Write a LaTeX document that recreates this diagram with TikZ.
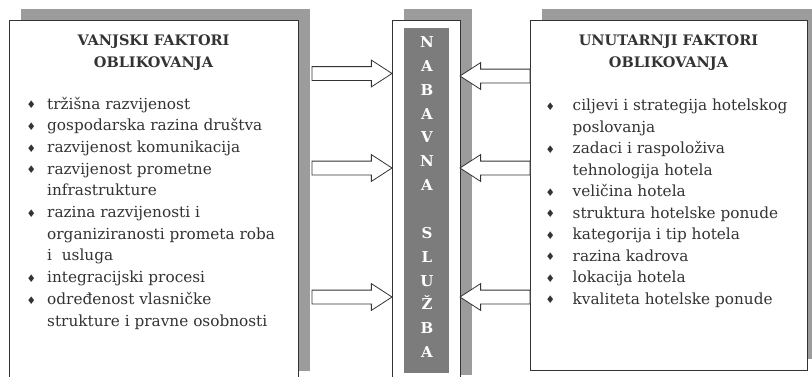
\documentclass[tikz,border=0pt]{standalone}
\usepackage{fontspec}
\setmainfont{DejaVu Serif}
\newfontfamily\bulfont{DejaVu Sans}
\usetikzlibrary{shapes.arrows,shadows}
\definecolor{shade}{HTML}{9C9C9C}
\definecolor{darkfill}{HTML}{7C7C7C}
\definecolor{edge}{HTML}{333333}
\definecolor{ink}{HTML}{333333}
\newcommand\bulsym{\raisebox{0.3pt}{\bulfont\fontsize{10.5}{10}\selectfont ♦}}
\newcommand\lbul{\makebox[19.5pt][l]{\hspace*{-1pt}\bulsym}}
\newcommand\lind{\hspace*{19.5pt}}
\newcommand\rbul{\makebox[26pt][l]{\hspace*{-1pt}\bulsym}}
\newcommand\rind{\hspace*{26pt}}
\begin{document}
\begin{tikzpicture}[x=1pt,y=-1pt,
  panel/.style={draw=edge, fill=white, line width=0.8pt, inner sep=0pt, outer sep=0pt, anchor=north west,
    drop shadow={shadow xshift=12pt, shadow yshift=11pt, fill=shade, opacity=1}},
  ttl/.style={font=\bfseries\fontsize{14.5}{17}\selectfont, text=ink, inner sep=0pt, anchor=base},
  item/.style={font=\fontsize{15.3}{18}\selectfont, text=ink, inner sep=0pt, anchor=base west},
  letter/.style={font=\bfseries\fontsize{15}{18}\selectfont, text=white, inner sep=0pt, anchor=base},
  barrow/.style={single arrow, draw=edge, fill=white, line width=0.8pt, minimum width=26pt,
    single arrow head extend=6.5pt, single arrow tip angle=66, inner xsep=0pt, inner ysep=6.5pt,
    text height=0pt, text depth=0pt, outer sep=0pt}]
\useasboundingbox (0,0) rectangle (812,376);

% panels
\node[panel, minimum width=289pt, minimum height=362pt] (lbox) at (9,20) {};
\node[panel, minimum width=68pt, minimum height=366pt] (mbox) at (392,20) {};
\node[panel, minimum width=277pt, minimum height=350pt] (rbox) at (530,20) {};
\node[fill=darkfill, inner sep=0pt, anchor=north west, minimum width=45pt, minimum height=345pt] (mdark) at (404,28) {};

% titles
\node[ttl] (lt1) at (153.5,45.3) {VANJSKI FAKTORI};
\node[ttl] (lt2) at (153.5,67.3) {OBLIKOVANJA};
\node[ttl] (rt1) at (668.5,45.3) {UNUTARNJI FAKTORI};
\node[ttl] (rt2) at (668.5,67.3) {OBLIKOVANJA};

% left list
\foreach \t [count=\i] in {
  \lbul tržišna razvijenost,
  \lbul gospodarska razina društva,
  \lbul razvijenost komunikacija,
  \lbul razvijenost prometne,
  \lind infrastrukture,
  \lbul razina razvijenosti i,
  \lind organiziranosti prometa roba,
  \lind i\ \ usluga,
  \lbul integracijski procesi,
  \lbul određenost vlasničke,
  \lind strukture i pravne osobnosti}
  \node[item] (l\i) at (27.5,{109+21.7*(\i-1)}) {\t};

% right list
\foreach \t [count=\i] in {
  \rbul ciljevi i strategija hotelskog,
  \rind poslovanja,
  \rbul zadaci i raspoloživa,
  \rind tehnologija hotela,
  \rbul veličina hotela,
  \rbul struktura hotelske ponude,
  \rbul kategorija i tip hotela,
  \rbul razina kadrova,
  \rbul lokacija hotela,
  \rbul kvaliteta hotelske ponude}
  \node[item] (r\i) at (546.5,{110.5+21.5*(\i-1)}) {\t};

% middle letters
\foreach \l/\k in {N/0,A/1,B/2,A/3,V/4,N/5,A/6,S/8,L/9,U/10,Ž/11,B/12,A/13}
  \node[letter] (m\k) at (427,{47.5+23.85*\k}) {\l};

% block arrows
\node[barrow, minimum height=80pt, anchor=tip] (a1) at (mbox.west |- 0,73.5) {};
\node[barrow, minimum height=80pt, anchor=tip] (a2) at (mbox.west |- 0,168) {};
\node[barrow, minimum height=80pt, anchor=tip] (a3) at (mbox.west |- 0,297) {};
\node[barrow, minimum height=70pt, shape border rotate=180, anchor=tip] (b1) at (mbox.east |- 0,76) {};
\node[barrow, minimum height=70pt, shape border rotate=180, anchor=tip] (b2) at (mbox.east |- 0,168) {};
\node[barrow, minimum height=70pt, shape border rotate=180, anchor=tip] (b3) at (mbox.east |- 0,297) {};
\end{tikzpicture}
\end{document}
